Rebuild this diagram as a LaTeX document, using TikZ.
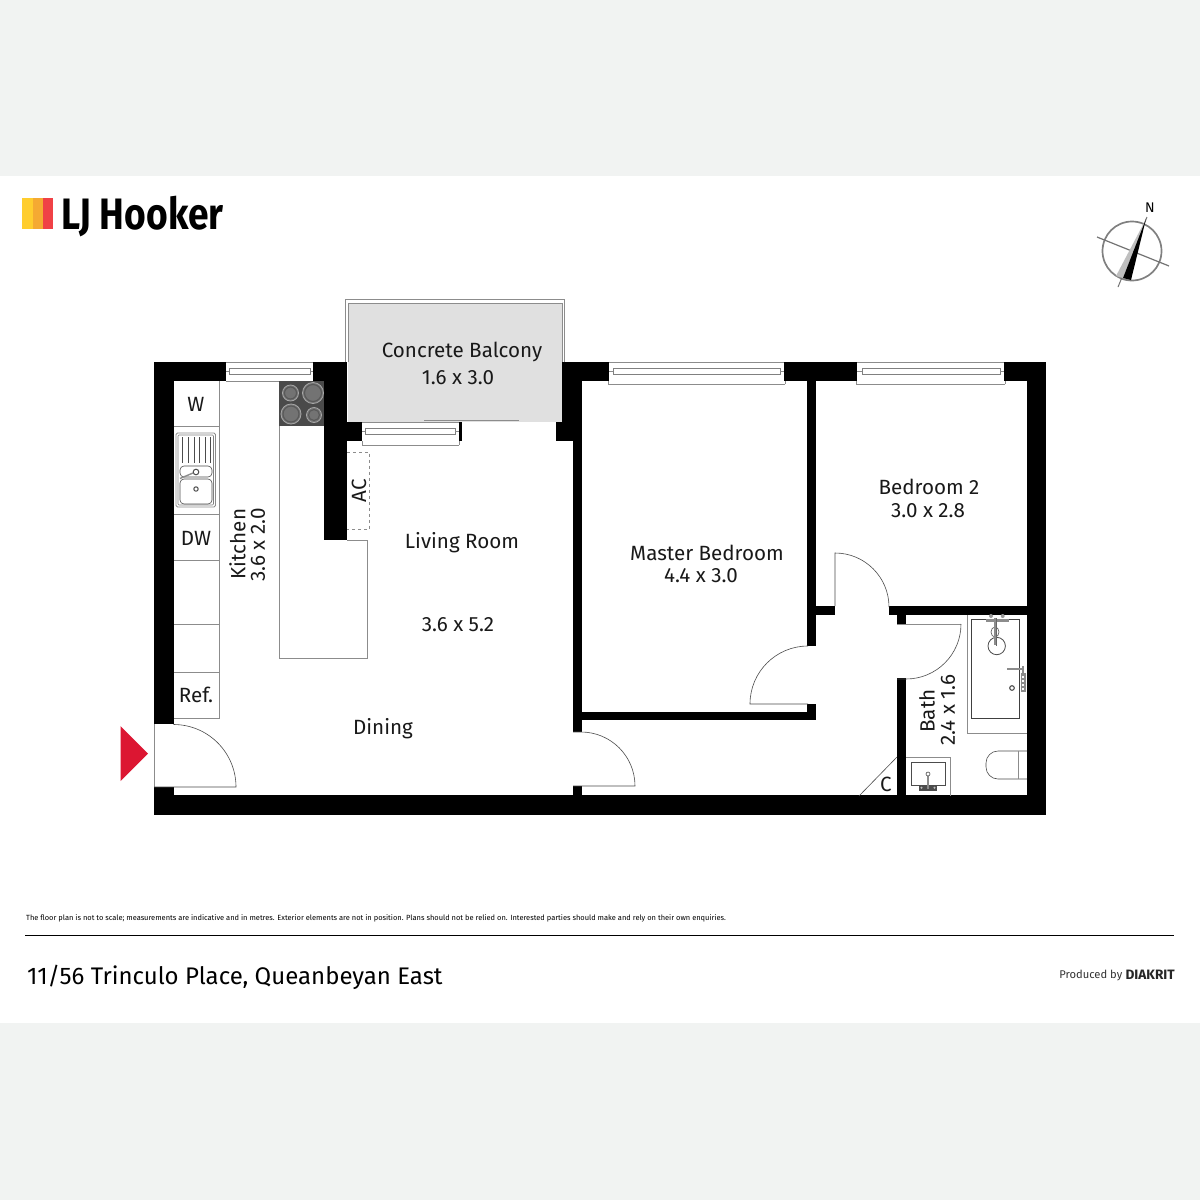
\documentclass[tikz,border=0pt]{standalone}
\usepackage{fontspec}
\setmainfont{Fira Sans}
\definecolor{pagegrey}{HTML}{F1F3F2}
\definecolor{balconygrey}{HTML}{E0E0E0}
\definecolor{fitgrey}{HTML}{8C8C8C}
\definecolor{hobgrey}{HTML}{4A4A4A}
\definecolor{entryred}{HTML}{DC1632}
\definecolor{logoyellow}{HTML}{FFCD2E}
\definecolor{logoorange}{HTML}{F5AA32}
\definecolor{logored}{HTML}{F04146}
\tikzset{
	wallpart/.style={fill=black},
	fitline/.style={draw=fitgrey,line width=0.9pt},
	thinline/.style={draw=black!70,line width=0.6pt},
	winline/.style={draw=black!50,line width=0.6pt},
	roomlabel/.style={inner sep=0pt,font=\fontsize{20.6}{24}\selectfont,text=black!90},
	burner/.style={draw=black!35,fill=black!55,line width=0.8pt}
}
\begin{document}
\begin{tikzpicture}[x=1pt,y=-1pt]
	\useasboundingbox (0,0) rectangle (1200,1200);
	\fill[pagegrey] (0,0) rectangle (1200,1200);
	\fill[white] (0,176) rectangle (1200,1023);

	\fill[logoyellow] (22,198) rectangle (33,229);
	\fill[logoorange] (33,198) rectangle (43,229);
	\fill[logored] (43,198) rectangle (53,229);
	\node[anchor=west,inner sep=0pt,font=\fontsize{44}{48}\selectfont\bfseries,xscale=0.845] (logo) at (61,216.5) {LJ Hooker};

	\draw[draw=black!50,line width=1.7pt] (1132,251) circle (29.5);
	\draw[draw=black!55,line width=1.2pt] (1097,237) -- (1169,266);
	\draw[draw=black!55,line width=1pt] (1147,217) -- (1118,287);
	\fill[black!25] (1146,219) -- (1116,276) -- (1123,278) -- cycle;
	\fill[black] (1146,219) -- (1123,278) -- (1131,280) -- cycle;
	\node[inner sep=0pt,font=\fontsize{14}{16}\selectfont] (north) at (1150,208) {N};

	\fill[balconygrey] (347.5,303) rectangle (562,422);
	\draw[fitline,line width=0.7pt] (348,362) -- (348,303) -- (562,303) -- (562,362);
	\draw[fitline,line width=0.7pt] (345.5,362) -- (345.5,299.5) -- (564.5,299.5) -- (564.5,362);
	\draw[fitline] (424,420.5) -- (519,420.5);

	\fill[wallpart] (154,362) rectangle (226,381);
	\fill[wallpart] (154,362) rectangle (174,724);
	\fill[wallpart] (154,787) rectangle (174,815);
	\fill[wallpart] (154,795) rectangle (1046,815);
	\fill[wallpart] (1027,362) rectangle (1046,815);
	\fill[wallpart] (313,362) rectangle (347,381);
	\fill[wallpart] (324,362) rectangle (347,540);
	\fill[wallpart] (324,422) rectangle (362,441);
	\fill[wallpart] (459,422) rectangle (462,441);
	\fill[wallpart] (556,422) rectangle (582,441);
	\fill[wallpart] (562,362) rectangle (609,381);
	\fill[wallpart] (562,362) rectangle (582,441);
	\fill[wallpart] (573,441) rectangle (582,732);
	\fill[wallpart] (573,786) rectangle (582,796);
	\fill[wallpart] (784,362) rectangle (857,381);
	\fill[wallpart] (1004,362) rectangle (1046,381);
	\fill[wallpart] (807,381) rectangle (816,646);
	\fill[wallpart] (807,704) rectangle (816,720);
	\fill[wallpart] (582,712) rectangle (816,720);
	\fill[wallpart] (816,606) rectangle (835,615);
	\fill[wallpart] (889,606) rectangle (1027,615);
	\fill[wallpart] (897,615) rectangle (906,624);
	\fill[wallpart] (897,678) rectangle (906,796);

	\draw[fitline] (226,362) -- (313,362) (226,381) -- (313,381);
	\draw[winline] (229,368.5) rectangle (310,374);
	\draw[fitline] (226,371) -- (229,371) (310,371) -- (313,371);
	\draw[fitline] (609,362) -- (784,362) (608,384) -- (785,384) (608,381) -- (608,384) (785,381) -- (785,384);
	\draw[winline] (613,368.5) rectangle (780,374);
	\draw[fitline] (609,371) -- (613,371) (780,371) -- (784,371);
	\draw[fitline] (857,362) -- (1004,362) (856,384) -- (1005,384) (856,381) -- (856,384) (1005,381) -- (1005,384);
	\draw[winline] (862,368.5) rectangle (1000,374);
	\draw[fitline] (857,371) -- (862,371) (1000,371) -- (1004,371);
	\draw[fitline] (362,422) -- (459,422) (362,445) -- (459,445) (362,441) -- (362,445) (459,441) -- (459,445);
	\draw[winline] (365,428) rectangle (455,434.5);
	\draw[fitline] (362,431) -- (365,431) (455,431) -- (459,431);

	\draw[fitline] (219,381) -- (219,718) -- (174,718);
	\foreach \liney in {426,514,560,624,672}
		\draw[fitline] (174,\liney) -- (219,\liney);
	\draw[fitline] (279,426) -- (279,658) -- (367,658) -- (367,540) -- (347,540);
	\fill[hobgrey] (279,381) rectangle (324,426);
	\foreach \burnx/\burny/\burnr in {290.5/393/8,313/393/10.5,291/414/10,314/415/7.5} {
		\draw[burner] (\burnx,\burny) circle (\burnr);
		\draw[draw=black!65,line width=1.1pt] (\burnx,\burny) circle (\burnr-2);
	}
	\draw[fitline,dashed] (347,452) -- (369.5,452) -- (369.5,529) -- (347,529);

	\draw[fitline,rounded corners=1.5pt] (176,433) rectangle (215.5,507);
	\draw[winline,rounded corners=1pt] (178,435) rectangle (213.5,505);
	\foreach \ribx in {182.5,188,194,199.5,205,210.5}
		\draw[thinline,line width=0.9pt] (\ribx,437) -- (\ribx,463);
	\draw[thinline,rounded corners=4pt] (180,466) rectangle (212,477);
	\draw[thinline,rounded corners=4pt] (180,479) rectangle (212,504);
	\draw[thinline,line width=1pt] (196,472) circle (2.8);
	\draw[thinline,line width=1pt] (196,489) circle (2.2);
	\draw[fitline,line width=1.4pt] (193,473) -- (180,478.5);

	\draw[fitline,line width=0.7pt] (154,724) -- (154,787);
	\draw[thinline] (154,787) -- (236,787) arc[start angle=0,end angle=-90,radius=62.5];
	\draw[thinline] (573,786) -- (635,786) arc[start angle=0,end angle=-90,radius=54] -- (573,732);
	\draw[thinline] (835,606) -- (835,553) arc[start angle=-90,end angle=0,radius=54];
	\draw[thinline] (808,704) -- (750,704) arc[start angle=180,end angle=270,radius=58];
	\draw[thinline,fitline] (897,624) -- (961,624);
	\draw[thinline] (961,624) arc[start angle=0,end angle=90,radius=55] -- (897,679);

	\draw[thinline] (897,757) -- (859,796);

	\draw[fitline] (906,757) -- (950.5,757) -- (950.5,796);
	\draw[thinline,line width=0.8pt] (911,762) rectangle (945,785);
	\fill[black!70] (919,785) rectangle (937,790.5);
	\foreach \dotx in {921.5,928,934.5}
		\fill[black!25] (\dotx,787.7) circle (1.2);
	\draw[fitline,line width=2pt] (928,772) -- (928,789);
	\draw[thinline,fill=white] (928,774) circle (2);

	\draw[fitline] (967,615) -- (967,733) -- (1027,733);
	\draw[draw=black!75,line width=1.1pt] (971.5,619.5) rectangle (1019.5,718.5);
	\draw[thinline,line width=0.8pt] (996.7,646) circle (8.7);
	\draw[thinline] (995,632) ellipse (4 and 5);
	\fill[black!40] (991,616) circle (2) (1002.7,616) circle (2);
	\draw[fitline,line width=2.4pt] (986,620.5) -- (1009,620.5);
	\draw[fitline,line width=1.4pt] (995,618) -- (995,645);
	\draw[draw=black!60,line width=1.2pt] (996.7,618) -- (996.7,646);
	\draw[fitline,line width=2.6pt] (1007,669) -- (1024,669);
	\draw[fitline,line width=1.8pt] (1023,666) -- (1023,673);
	\draw[thinline,line width=1.1pt] (1012,688) circle (2.3);
	\fill[black!45] (1020.5,673) rectangle (1025.5,691.5);
	\foreach \railstep in {676,680,684,688}
		\fill[white] (1022,\railstep) rectangle (1024.2,\railstep+2);

	\draw[thinline] (1027,751) -- (998,751) arc[start angle=-90,end angle=-180,radius=12] -- (986,767) arc[start angle=180,end angle=90,radius=12] -- (1027,779);
	\draw[fitline] (1018,751) -- (1018,779);

	\fill[entryred] (120.5,726) -- (148,753.5) -- (120.5,781) -- cycle;

	\node[roomlabel] (balconyname) at (462,351.5) {Concrete Balcony};
	\node[roomlabel] (balconysize) at (458,378) {1.6 x 3.0};
	\node[roomlabel] (livingname) at (462,543) {Living Room};
	\node[roomlabel] (livingsize) at (458,625) {3.6 x 5.2};
	\node[roomlabel] (diningname) at (383,729) {Dining};
	\node[roomlabel] (mastername) at (707,553) {Master Bedroom};
	\node[roomlabel] (mastersize) at (701,575.5) {4.4 x 3.0};
	\node[roomlabel] (bedtwoname) at (929,487) {Bedroom 2};
	\node[roomlabel] (bedtwosize) at (928,511) {3.0 x 2.8};
	\node[roomlabel] (washer) at (196,404.5) {W};
	\node[roomlabel] (dishwasher) at (196,538) {DW};
	\node[roomlabel] (fridge) at (196,694.5) {Ref.};
	\node[roomlabel] (closet) at (886,784.5) {C};
	\node[roomlabel,rotate=90] (aircon) at (359,491) {AC};
	\node[roomlabel,rotate=90] (kitchenname) at (237.5,544) {Kitchen};
	\node[roomlabel,rotate=90] (kitchensize) at (258,545) {3.6 x 2.0};
	\node[roomlabel,rotate=90] (bathname) at (927,711) {Bath};
	\node[roomlabel,rotate=90] (bathsize) at (948,710) {2.4 x 1.6};

	\node[anchor=west,inner sep=0pt,font=\fontsize{7.47}{9}\selectfont] (disclaimer) at (26,918) {The floor plan is not to scale; measurements are indicative and in metres. Exterior elements are not in position. Plans should not be relied on. Interested parties should make and rely on their own enquiries.};
	\coordinate (ruleleft) at (25,935);
	\coordinate (ruleright) at (1174,935);
	\draw[black,line width=0.9pt] (ruleleft) -- (ruleright);
	\node[anchor=west,inner sep=0pt,font=\fontsize{24}{28}\selectfont] (address) at (27,977.5) {11/56 Trinculo Place, Queanbeyan East};
	\node[anchor=east,inner sep=0pt,font=\fontsize{13.6}{15}\selectfont\bfseries,text=black!85] (maker) at (1175,974.5) {DIAKRIT};
	\node[anchor=east,inner sep=0pt,font=\fontsize{11.2}{14}\selectfont,text=black!80] (producedby) at (1122.5,975) {Produced by};
\end{tikzpicture}
\end{document}
